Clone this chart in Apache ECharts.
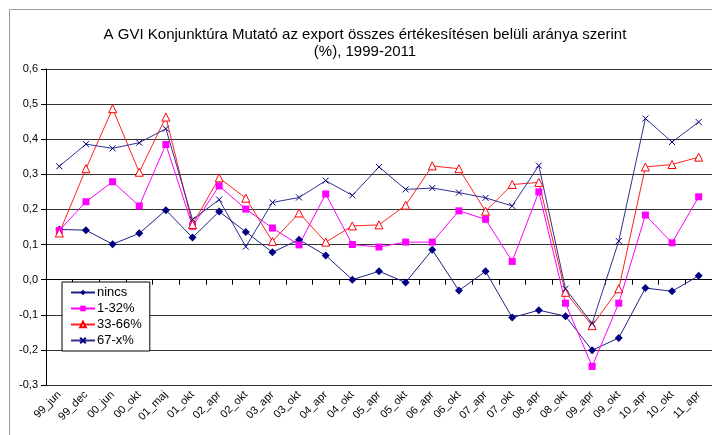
<!DOCTYPE html>
<html>
<head>
<meta charset="utf-8">
<script src="https://cdn.jsdelivr.net/npm/echarts@6/dist/echarts.min.js"></script>
<style>
  html, body { margin: 0; padding: 0; background: #fff; }
  #main { width: 712px; height: 435px; }
</style>
</head>
<body>
<div id="main"></div>
<script>
const categories = ['99_jun', '99_dec', '00_jun', '00_okt', '01_maj', '01_okt', '02_apr', '02_okt', '03_apr', '03_okt',
  '04_apr', '04_okt', '05_apr', '05_okt', '06_apr', '06_okt', '07_apr', '07_okt', '08_apr', '08_okt',
  '09_apr', '09_okt', '10_apr', '10_okt', '11_apr']

const nincs = [0.143, 0.141, 0.101, 0.132, 0.198, 0.12, 0.194, 0.136, 0.078, 0.114,
  0.069, 0.0, 0.024, -0.008, 0.085, -0.031, 0.024, -0.108, -0.087, -0.104,
  -0.201, -0.166, -0.024, -0.033, 0.011]
const s1_32 = [0.14, 0.222, 0.279, 0.21, 0.385, 0.152, 0.267, 0.201, 0.147, 0.099,
  0.244, 0.1, 0.093, 0.107, 0.107, 0.196, 0.172, 0.052, 0.25, -0.067,
  -0.247, -0.067, 0.184, 0.105, 0.236]
const s33_66 = [0.133, 0.316, 0.487, 0.306, 0.463, 0.157, 0.29, 0.232, 0.109, 0.19,
  0.107, 0.153, 0.156, 0.212, 0.324, 0.316, 0.195, 0.271, 0.277, -0.036,
  -0.131, -0.026, 0.321, 0.328, 0.349]
const s67_x = [0.323, 0.386, 0.374, 0.39, 0.43, 0.171, 0.228, 0.094, 0.22, 0.234,
  0.282, 0.24, 0.321, 0.257, 0.261, 0.248, 0.233, 0.21, 0.325, -0.026,
  -0.125, 0.11, 0.459, 0.392, 0.449]

const font = 'Liberation Sans, Arial, sans-serif'

let chart = echarts.init(document.getElementById('main'))

// 'x' jelölő: nyitott útvonal, csak körvonallal
const xMark = 'path://M0,0L10,10M10,0L0,10'

let option = {
  animation: false,
  backgroundColor: '#fff',
  textStyle: { fontFamily: font },
  title: {
    text: 'A GVI Konjunktúra Mutató az export összes értékesítésen belüli aránya szerint\n(%), 1999-2011',
    left: 360,
    top: 21,
    textAlign: 'center',
    textStyle: { fontFamily: font, fontSize: 15, fontWeight: 'normal', color: '#000', lineHeight: 17 }
  },
  graphic: [{
    type: 'rect',
    shape: { x: 9.5, y: 9.5, width: 720, height: 440 },
    style: { fill: 'none', stroke: '#999', lineWidth: 1 },
    silent: true
  }],
  legend: {
    orient: 'vertical',
    left: 62,
    top: 282,
    padding: [4, 8, 4, 8],
    itemGap: 3,
    itemWidth: 24,
    itemHeight: 7,
    borderColor: '#000',
    borderWidth: 1,
    backgroundColor: '#fff',
    textStyle: { fontFamily: font, fontSize: 13, color: '#000', padding: [0, 0, 0, -3] },
    data: ['nincs', '1-32%', '33-66%', '67-x%']
  },
  grid: { left: 46, top: 69, width: 667, height: 316 },
  xAxis: {
    type: 'category',
    data: categories,
    boundaryGap: true,
    axisLine: { lineStyle: { color: '#000', width: 1 } },
    axisTick: { show: true, length: 5, lineStyle: { color: '#000' } },
    axisLabel: { rotate: 45, fontSize: 11, color: '#000', fontFamily: font, margin: 8, interval: 0 },
    splitLine: { show: false }
  },
  yAxis: {
    type: 'value',
    min: -0.3,
    max: 0.6,
    interval: 0.1,
    axisLine: { show: true, lineStyle: { color: '#000', width: 1 } },
    axisTick: { show: true, length: 5, lineStyle: { color: '#000' } },
    axisLabel: {
      fontSize: 11, color: '#000', fontFamily: font, margin: 8,
      formatter: v => v.toFixed(1).replace('.', ',')
    },
    splitLine: { show: true, lineStyle: { color: '#333', width: 1 } }
  },
  series: [
    {
      name: 'nincs',
      type: 'line',
      data: nincs,
      symbol: 'diamond',
      symbolSize: 8,
      lineStyle: { color: '#20208a', width: 1 },
      itemStyle: { color: '#000080' }
    },
    {
      name: '1-32%',
      type: 'line',
      data: s1_32,
      symbol: 'rect',
      symbolSize: 7,
      lineStyle: { color: '#ff00ff', width: 1 },
      itemStyle: { color: '#ff00ff' }
    },
    {
      name: '33-66%',
      type: 'line',
      data: s33_66,
      symbol: 'triangle',
      symbolSize: 8,
      lineStyle: { color: '#ff2020', width: 1 },
      itemStyle: { color: '#fff', borderColor: '#ff0000', borderWidth: 1 }
    },
    {
      name: '67-x%',
      type: 'line',
      data: s67_x,
      symbol: xMark,
      symbolSize: 6,
      lineStyle: { color: '#303090', width: 1 },
      itemStyle: { color: 'none', borderColor: '#000080', borderWidth: 1 }
    }
  ]
}

chart.setOption(option)
</script>
</body>
</html>
